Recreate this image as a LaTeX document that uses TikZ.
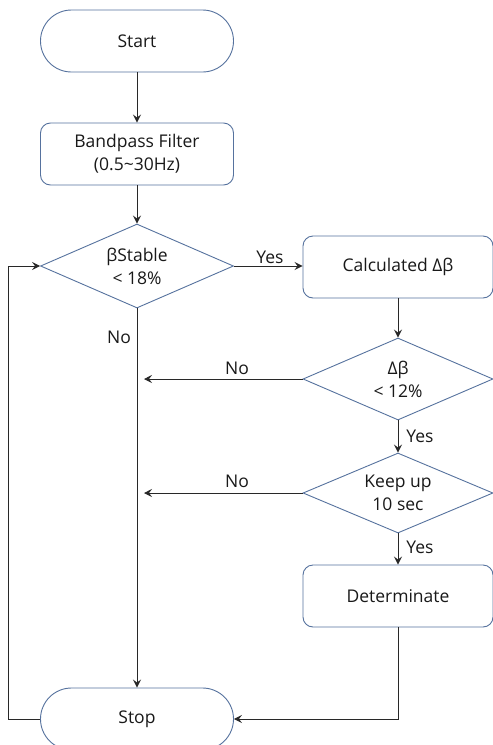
\documentclass[tikz,border=0pt]{standalone}
\usepackage{fontspec}
\setmainfont{Open Sans}
\usetikzlibrary{shapes.geometric,arrows.meta}
\definecolor{shapeblue}{RGB}{86,114,158}
\definecolor{linegray}{RGB}{40,40,40}
\definecolor{txt}{RGB}{25,25,25}
\begin{document}
\begin{tikzpicture}[x=1pt,y=-1pt,
  every node/.style={text=txt,font=\fontsize{17.5}{23}\selectfont},
  term/.style={draw=shapeblue,line width=0.9pt,fill=white,rounded corners=31pt,minimum width=193pt,minimum height=62pt,inner sep=0pt},
  proc/.style={draw=shapeblue,line width=0.9pt,fill=white,rounded corners=10pt,minimum width=190pt,minimum height=62pt,inner sep=0pt,align=center},
  dec/.style={draw=shapeblue,line width=0.9pt,fill=white,diamond,aspect=2.3,minimum width=190pt,minimum height=82pt,inner sep=0pt,align=center},
  conn/.style={draw=linegray,line width=1pt,-{Stealth[length=8pt,width=8pt,inset=3pt]}},
  lbl/.style={inner sep=0pt}
]
\clip (0,0) rectangle (493,745);
\useasboundingbox (0,0) rectangle (493,745);
\node[term] (start) at (137,41) {Start};
\node[proc,minimum width=193pt] (bp) at (137,154) {Bandpass Filter\\(0.5\textasciitilde30Hz)};
\node[dec,minimum width=193pt,minimum height=84pt] (d1) at (137,266) {βStable\\< 18\%};
\node[proc] (calc) at (398,267) {Calculated Δβ};
\node[dec] (d2) at (398,379) {Δβ\\< 12\%};
\node[dec,minimum height=80pt] (d3) at (398,493) {Keep up\\10 sec};
\node[proc] (det) at (398,596) {Determinate};
\node[term] (stop) at (137,719) {Stop};
\coordinate (c1) at (137,379);
\coordinate (c2) at (137,493);
\coordinate (lb) at (8,719);
\coordinate (lt) at (8,266);
\coordinate (rb) at (398,719);
\draw[conn] (start) -- (bp);
\draw[conn] (bp) -- (d1);
\draw[conn] (d1.east) -- (d1.east -| calc.west);
\node[lbl] at (270,257) {Yes};
\draw[conn] (calc) -- (d2);
\draw[conn] (d2.south) -- (d3.north);
\node[lbl] at (420,436) {Yes};
\draw[conn] (d3.south) -- (det.north);
\node[lbl] at (420,547) {Yes};
\draw[conn] (d1.south) -- (stop.north);
\node[lbl] at (119,337) {No};
\draw[conn] (d2.west) -- ([xshift=7pt]c1);
\node[lbl] at (237,368) {No};
\draw[conn] (d3.west) -- ([xshift=7pt]c2);
\node[lbl] at (237,481) {No};
\draw[conn] (det.south) -- (rb) -- (stop.east);
\draw[conn] (stop.west) -- (lb) -- (lt) -- (d1.west);
\end{tikzpicture}
\end{document}
